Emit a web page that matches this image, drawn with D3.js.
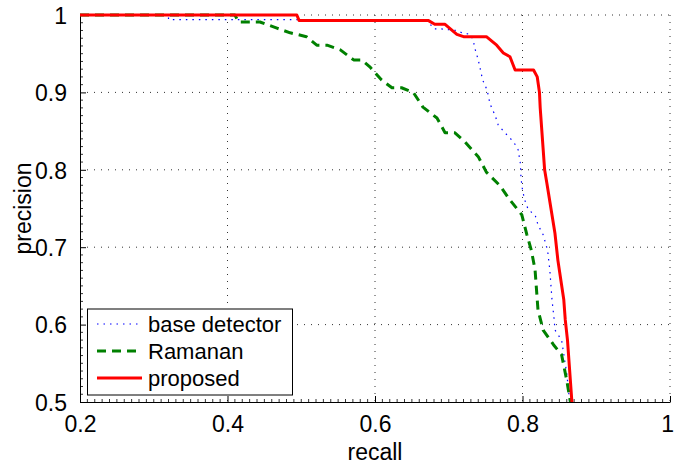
<!DOCTYPE html>
<html><head><meta charset="utf-8">
<script src="https://cdn.jsdelivr.net/npm/d3@7"></script>
<style>body{margin:0;background:#fff;}svg{display:block;font-family:"Liberation Sans",Arial,sans-serif;}</style>
</head><body>
<svg id="c" width="674" height="464"></svg>
<script>
const xTicks = [0.2, 0.4, 0.6, 0.8, 1];
const yTicks = [0.5, 0.6, 0.7, 0.8, 0.9, 1];
const seriesNames = ["base detector", "Ramanan", "proposed"];

const baseRecall = [0.2,0.32,0.32,0.67,0.68,0.69,0.711,0.718,0.729,0.733,0.736,0.740,0.746,0.752,0.756,0.763,0.767,0.776,0.788,0.794,0.797,0.798,0.800,0.803,0.808,0.817,0.821,0.828,0.834,0.837,0.840,0.843,0.844,0.853,0.860,0.864];
const basePrecision = [1,1,0.994,0.994,0.982,0.982,0.98,0.977,0.975,0.968,0.955,0.942,0.916,0.903,0.885,0.870,0.858,0.848,0.836,0.826,0.809,0.789,0.774,0.761,0.748,0.742,0.729,0.716,0.696,0.671,0.632,0.606,0.593,0.580,0.537,0.5];

const ramRecall = [0.2,0.41,0.415,0.444,0.467,0.485,0.507,0.521,0.535,0.553,0.571,0.582,0.593,0.609,0.623,0.636,0.652,0.665,0.684,0.688,0.695,0.708,0.722,0.740,0.751,0.769,0.783,0.799,0.806,0.812,0.817,0.821,0.828,0.842,0.853,0.860,0.865];
const ramPrecision = [1,1,0.991,0.991,0.983,0.977,0.972,0.961,0.961,0.955,0.942,0.942,0.933,0.916,0.906,0.906,0.9,0.881,0.867,0.860,0.848,0.848,0.836,0.817,0.797,0.780,0.761,0.742,0.716,0.696,0.671,0.619,0.593,0.574,0.561,0.528,0.5];

const propRecall = [0.2,0.494,0.497,0.672,0.681,0.695,0.711,0.720,0.751,0.765,0.774,0.783,0.790,0.815,0.820,0.823,0.824,0.830,0.833,0.844,0.848,0.856,0.858,0.861,0.867];
const propPrecision = [1,1,0.993,0.993,0.988,0.988,0.975,0.972,0.972,0.961,0.951,0.946,0.929,0.929,0.920,0.900,0.880,0.800,0.783,0.718,0.683,0.632,0.606,0.580,0.5];

const L = 80, R = 670, T = 15, B = 402;
const svg = d3.select("#c");
const x = d3.scaleLinear().domain([0.2, 1]).range([L, R]);
const y = d3.scaleLinear().domain([0.5, 1]).range([B, T]);

// grid
const g = svg.append("g");
xTicks.filter(v => v > 0.2).forEach(v => {
  g.append("line").attr("x1", x(v)).attr("x2", x(v)).attr("y1", T).attr("y2", B)
    .attr("stroke", "#333").attr("stroke-width", 1).attr("stroke-dasharray", "1,6");
});
yTicks.filter(v => v > 0.5).forEach(v => {
  g.append("line").attr("x1", L).attr("x2", R).attr("y1", y(v)).attr("y2", y(v))
    .attr("stroke", "#333").attr("stroke-width", 1).attr("stroke-dasharray", "1,6");
});

// axes
const xAxis = d3.axisBottom(x).tickValues(xTicks).tickFormat(d => d === 1 ? "1" : d3.format(".1f")(d)).tickSizeInner(-6).tickSizeOuter(0).tickPadding(16);
const yAxis = d3.axisLeft(y).tickValues(yTicks).tickFormat(d => d === 1 ? "1" : d3.format(".1f")(d)).tickSizeInner(-6).tickSizeOuter(0).tickPadding(13);
const xa = svg.append("g").attr("transform", `translate(0,${B})`).call(xAxis);
const ya = svg.append("g").attr("transform", `translate(${L},0)`).call(yAxis);
[xa, ya].forEach(a => {
  a.select(".domain").attr("stroke", "#000");
  a.selectAll(".tick line").attr("stroke", "#000");
  a.selectAll("text").attr("font-size", 23).attr("fill", "#000").attr("font-family", "Liberation Sans, Arial, sans-serif");
});
xa.selectAll("text").attr("dy", null).attr("y", 29.5);
xa.selectAll(".tick text").filter(d => d === 1).attr("text-anchor", "end").attr("x", 3.5);
ya.selectAll("text").attr("dy", "0.36em");
// minor ticks
const xMinor = d3.range(21, 100).map(i => i / 100).filter(v => Math.round(v * 100) % 20 !== 0);
const yMinor = d3.range(51, 100).map(i => i / 100).filter(v => Math.round(v * 100) % 10 !== 0);
svg.append("g").selectAll("line").data(xMinor).join("line")
  .attr("x1", d => x(d)).attr("x2", d => x(d)).attr("y1", B).attr("y2", B - 3).attr("stroke", "#000").attr("stroke-width", 0.8);
svg.append("g").selectAll("line").data(yMinor).join("line")
  .attr("y1", d => y(d)).attr("y2", d => y(d)).attr("x1", L).attr("x2", L + 3).attr("stroke", "#000").attr("stroke-width", 0.8);

// clip
svg.append("defs").append("clipPath").attr("id", "clip").append("rect")
  .attr("x", L - 3).attr("y", T - 3).attr("width", R - L + 6).attr("height", B - T + 3);

const line = d3.line().x(d => x(d[0])).y(d => y(d[1]));
const styles = [
  {name: seriesNames[0], rx: baseRecall, py: basePrecision, color: "#0000ff", w: 1.2, dash: "1.5,5"},
  {name: seriesNames[1], rx: ramRecall, py: ramPrecision, color: "#008000", w: 3, dash: "9,6"},
  {name: seriesNames[2], rx: propRecall, py: propPrecision, color: "#ff0000", w: 3, dash: null}
];
const lg = svg.append("g").attr("clip-path", "url(#clip)");
styles.forEach(s => {
  const pts = s.rx.map((v, i) => [v, s.py[i]]);
  lg.append("path").attr("d", line(pts)).attr("fill", "none")
    .attr("stroke", s.color).attr("stroke-width", s.w)
    .attr("stroke-dasharray", s.dash).attr("stroke-linejoin", "round");
});

// axis labels
svg.append("text").attr("x", (L + R) / 2).attr("y", 460).attr("text-anchor", "middle")
  .attr("font-size", 23).text("recall");
svg.append("text").attr("transform", `translate(31,${(T + B) / 2}) rotate(-90)`).attr("text-anchor", "middle")
  .attr("font-size", 23).text("precision");

// legend
const leg = svg.append("g");
leg.append("rect").attr("x", 87.5).attr("y", 309).attr("width", 205).attr("height", 86)
  .attr("fill", "#fff").attr("stroke", "#000").attr("stroke-width", 1);
styles.forEach((s, i) => {
  const yy = 324 + i * 27;
  leg.append("line").attr("x1", 97).attr("x2", 142).attr("y1", yy).attr("y2", yy)
    .attr("stroke", s.color).attr("stroke-width", s.w).attr("stroke-dasharray", s.dash);
  leg.append("text").attr("x", 148).attr("y", yy).attr("dy", "0.36em").attr("font-size", 22).text(s.name);
});
</script>
</body></html>
